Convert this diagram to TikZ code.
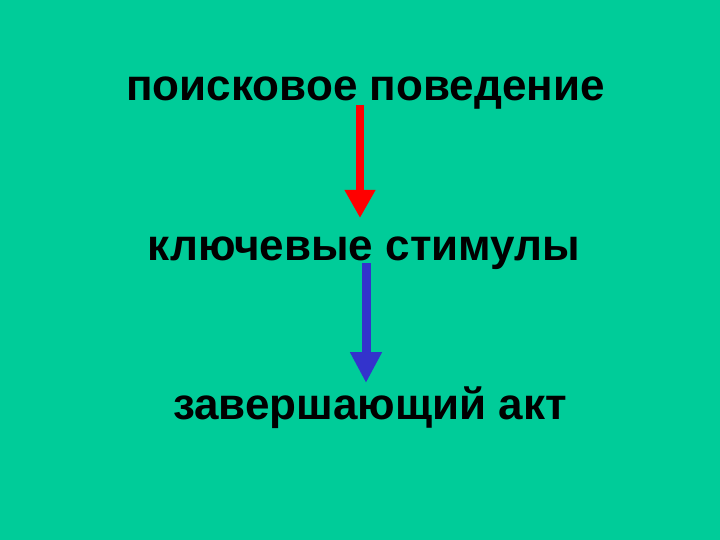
\documentclass[tikz,border=0pt]{standalone}
\usepackage{fontspec}
\setmainfont{Liberation Sans}
\usetikzlibrary{arrows.meta}
\definecolor{bg}{RGB}{0,204,153}
\definecolor{arrred}{RGB}{255,0,0}
\definecolor{arrblue}{RGB}{51,51,204}
\begin{document}
\begin{tikzpicture}[x=1pt,y=-1pt,
  lbl/.style={anchor=base,inner sep=0pt,font=\fontsize{44}{48}\selectfont\bfseries}]
\fill[bg] (0,0) rectangle (720,540);
\useasboundingbox (0,0) rectangle (720,540);
\node[lbl] (a) at (365.5,101) {поисковое поведение};
\node[lbl] (b) at (364,260) {ключевые стимулы};
\node[lbl] (c) at (370,419) {завершающий акт};
\coordinate (r1) at (360,105);
\coordinate (r2) at (360,218);
\coordinate (b1) at (366,263);
\coordinate (b2) at (366,383);
\draw[arrred,line width=8pt,-{Triangle[length=28pt,width=29pt]}] (r1) -- (r2);
\draw[arrblue,line width=9pt,-{Triangle[length=31pt,width=30pt]}] (b1) -- (b2);
\end{tikzpicture}
\end{document}
